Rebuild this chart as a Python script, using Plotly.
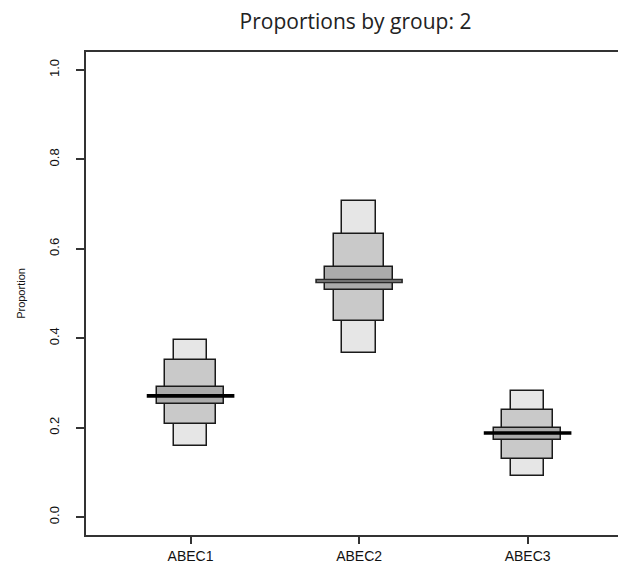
import plotly.graph_objects as go

# ---- data ----
groups = ["ABEC1", "ABEC2", "ABEC3"]
xpos = [1, 2, 3]
outer_lo = [0.159, 0.368, 0.093]
outer_hi = [0.397, 0.706, 0.282]
mid_lo = [0.209, 0.438, 0.131]
mid_hi = [0.352, 0.634, 0.240]
inner_lo = [0.254, 0.507, 0.172]
inner_hi = [0.290, 0.560, 0.200]
centre = [0.271, 0.528, 0.188]
ytick_vals = [0.0, 0.2, 0.4, 0.6, 0.8, 1.0]
ytick_text = ["0.0", "0.2", "0.4", "0.6", "0.8", "1.0"]

# ---- styles ----
band_widths = [0.2, 0.3, 0.4]
band_colors = ["#e6e6e6", "#c9c9c9", "#ababab"]
line_half = 0.26
line_colors = ["#000000", "#2a2a2a", "#000000"]
line_widths = [3.7, 4.5, 3.5]

# the page body adds an 8px offset; size the figure to fill the window
W, H = 618, 571

fig = go.Figure()
bands = [(outer_lo, outer_hi), (mid_lo, mid_hi), (inner_lo, inner_hi)]
for (lo, hi), w, c in zip(bands, band_widths, band_colors):
    fig.add_trace(go.Bar(
        x=xpos, y=[h - l for l, h in zip(lo, hi)], base=lo, width=w,
        marker=dict(color=c, line=dict(color="#1a1a1a", width=1.5)),
        hoverinfo="skip", showlegend=False))

for i, (xp, yc) in enumerate(zip(xpos, centre)):
    fig.add_trace(go.Scatter(
        x=[xp - line_half, xp + line_half], y=[yc, yc], mode="lines",
        line=dict(color=line_colors[i], width=line_widths[i]),
        hoverinfo="skip", showlegend=False))
    if i == 1:
        fig.add_trace(go.Scatter(
            x=[xp - line_half + 0.01, xp + line_half - 0.01], y=[yc, yc], mode="lines",
            line=dict(color="#8a8a8a", width=1.6),
            hoverinfo="skip", showlegend=False))

axis_font = dict(family="Liberation Sans, Arial, sans-serif", color="#111111")
fig.update_layout(
    width=W, height=H, autosize=False,
    margin=dict(l=78, r=1, t=44, b=44),
    paper_bgcolor="white", plot_bgcolor="white",
    barmode="overlay", bargap=0,
    title=dict(text="Proportions by group: 2", x=347.5 / W, xanchor="center",
               y=1 - 14 / H, yanchor="middle", yref="container",
               font=dict(family="Open Sans, sans-serif", size=21, color="#222222")),
    xaxis=dict(range=[0.3795, 3.578], tickmode="array", tickvals=xpos, ticktext=groups,
               ticks="outside", ticklen=7, tickwidth=1.5, tickcolor="#333333",
               showgrid=False, zeroline=False, showline=True, mirror=True,
               linecolor="#333333", linewidth=1.5, automargin=False,
               tickfont=dict(size=14, **axis_font)),
    yaxis=dict(range=[-0.04, 1.04], tickmode="array", tickvals=ytick_vals, ticktext=ytick_text,
               tickangle=-90, ticks="outside", ticklen=8, tickwidth=1.5, tickcolor="#333333",
               showgrid=False, zeroline=False, showline=True, mirror=True,
               linecolor="#333333", linewidth=1.5, automargin=False,
               ticklabelstandoff=12,
               tickfont=dict(size=13, **axis_font),
               title=dict(text="Proportion", font=dict(size=11, **axis_font), standoff=19)),
)

fig.write_html("out.html")
